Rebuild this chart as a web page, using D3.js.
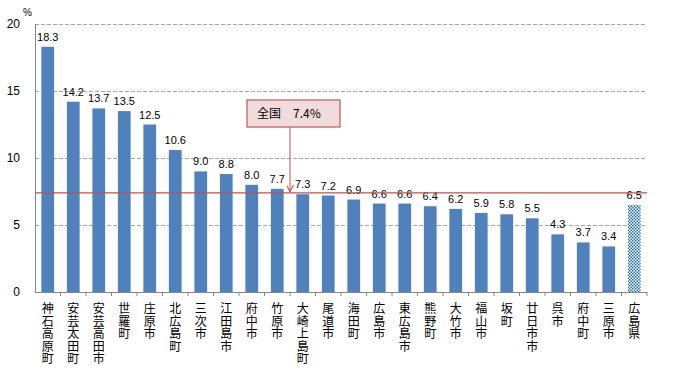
<!DOCTYPE html>
<html>
<head>
<meta charset="utf-8">
<script src="https://cdn.jsdelivr.net/npm/d3@7"></script>
<style>
  body { margin: 0; background: #fff; }
  text { font-family: "Liberation Sans", Arial, sans-serif; }
  .jp { font-family: "Noto Sans CJK JP", sans-serif; }
</style>
</head>
<body>
<div id="chart"></div>
<script>
// values
let categories = ["神石高原町", "安芸太田町", "安芸高田市", "世羅町", "庄原市", "北広島町", "三次市", "江田島市",
    "府中市", "竹原市", "大崎上島町", "尾道市", "海田町", "広島市", "東広島市", "熊野町", "大竹市", "福山市",
    "坂町", "廿日市市", "呉市", "府中町", "三原市", "広島県"];
let values = [18.3, 14.2, 13.7, 13.5, 12.5, 10.6, 9.0, 8.8, 8.0, 7.7, 7.3, 7.2, 6.9, 6.6, 6.6, 6.4, 6.2, 5.9,
    5.8, 5.5, 4.3, 3.7, 3.4, 6.5];
let yTicks = [0, 5, 10, 15, 20];
let national = 7.4;
let nationalLabel = "全国　7.4%";

let W = 678, H = 374;
let margin = {top: 24, right: 31, bottom: 82, left: 35},
    width = W - margin.left - margin.right,
    height = H - margin.top - margin.bottom;

let svg = d3.select("#chart").append("svg")
    .attr("width", W)
    .attr("height", H);

// checker pattern for the prefecture bar
let defs = svg.append("defs");
let pat = defs.append("pattern")
    .attr("id", "checker")
    .attr("patternUnits", "userSpaceOnUse")
    .attr("width", 3).attr("height", 3);
pat.append("rect").attr("width", 3).attr("height", 3).attr("fill", "#fff");
pat.append("rect").attr("width", 1.5).attr("height", 1.5).attr("fill", "#1b6ea6");
pat.append("rect").attr("x", 1.5).attr("y", 1.5).attr("width", 1.5).attr("height", 1.5).attr("fill", "#1b6ea6");

let g = svg.append("g")
    .attr("transform", "translate(" + margin.left + "," + margin.top + ")");

let x = d3.scaleBand().domain(categories).range([0, width]).paddingInner(0.5).paddingOuter(0.25);
let y = d3.scaleLinear().domain([0, 20]).range([height, 0]);

// grid lines
g.append("g").selectAll("line")
    .data(yTicks.filter((d) => d > 0))
    .enter().append("line")
    .attr("x1", 0).attr("x2", width)
    .attr("y1", (d) => y(d) + 0.5).attr("y2", (d) => y(d) + 0.5)
    .attr("stroke", "#a6a6a6")
    .attr("stroke-dasharray", "4,2");

// y tick labels
g.append("g").selectAll("text")
    .data(yTicks)
    .enter().append("text")
    .attr("x", -15).attr("y", (d) => y(d))
    .attr("dy", "0.35em")
    .attr("text-anchor", "end")
    .attr("font-size", 12)
    .attr("fill", "#000")
    .text((d) => d);

svg.append("text")
    .attr("x", 23).attr("y", 16)
    .attr("font-size", 10)
    .text("%");

// bars
g.append("g").selectAll("rect")
    .data(categories)
    .enter().append("rect")
    .attr("x", (d) => x(d))
    .attr("width", x.bandwidth())
    .attr("y", (d, i) => y(values[i]))
    .attr("height", (d, i) => height - y(values[i]))
    .attr("fill", (d, i) => i === categories.length - 1 ? "url(#checker)" : "#4f81bd");

// value labels
g.append("g").selectAll("text")
    .data(categories)
    .enter().append("text")
    .attr("x", (d) => x(d) + x.bandwidth() / 2)
    .attr("y", (d, i) => y(values[i]) - 6)
    .attr("text-anchor", "middle")
    .attr("font-size", 11)
    .text((d, i) => values[i].toFixed(1));

// axes lines
g.append("line")
    .attr("x1", 0.5).attr("x2", 0.5)
    .attr("y1", 0).attr("y2", height)
    .attr("stroke", "#868686");
g.append("line")
    .attr("x1", 0).attr("x2", width)
    .attr("y1", height + 0.5).attr("y2", height + 0.5)
    .attr("stroke", "#868686");

// category boundary ticks
let gap = x.step() - x.bandwidth();
g.append("g").selectAll("line")
    .data(categories)
    .enter().append("line")
    .attr("x1", (d) => x(d) + x.bandwidth() + gap / 2)
    .attr("x2", (d) => x(d) + x.bandwidth() + gap / 2)
    .attr("y1", height).attr("y2", height + 4)
    .attr("stroke", "#868686");

// vertical category labels, one character per line
let labels = g.append("g").selectAll("text")
    .data(categories)
    .enter().append("text")
    .attr("class", "jp")
    .attr("font-size", 12)
    .attr("text-anchor", "middle");
labels.each(function (d) {
    let t = d3.select(this);
    let cx = x(d) + x.bandwidth() / 2;
    Array.from(d).forEach(function (ch, k) {
        t.append("tspan")
            .attr("x", cx)
            .attr("y", height + 21 + k * 12.5)
            .text(ch);
    });
});

// national average line
g.append("line")
    .attr("x1", 0).attr("x2", width)
    .attr("y1", y(national)).attr("y2", y(national))
    .attr("stroke", "#c0504d")
    .attr("stroke-width", 1.3);

// callout box with arrow
let arrowX = x(categories[10]) - gap / 2;
let boxX0 = arrowX - 43, boxW = 93, boxY0 = 100 - margin.top, boxH = 27;
defs.append("marker")
    .attr("id", "arrow")
    .attr("viewBox", "0 0 10 10")
    .attr("refX", 10).attr("refY", 5)
    .attr("markerWidth", 7).attr("markerHeight", 7)
    .attr("orient", "auto")
    .append("path")
    .attr("d", "M0,0 L10,5 L0,10")
    .attr("fill", "none")
    .attr("stroke", "#c0504d")
    .attr("stroke-width", 1.5);
g.append("line")
    .attr("x1", arrowX).attr("x2", arrowX)
    .attr("y1", boxY0 + boxH).attr("y2", y(national) - 1)
    .attr("stroke", "#c0504d")
    .attr("stroke-width", 1)
    .attr("marker-end", "url(#arrow)");
g.append("rect")
    .attr("x", boxX0).attr("y", boxY0)
    .attr("width", boxW).attr("height", boxH)
    .attr("fill", "#f2dcdb")
    .attr("stroke", "#b65a57")
    .attr("stroke-width", 1.2);
g.append("text")
    .attr("class", "jp")
    .attr("x", boxX0 + 10).attr("y", boxY0 + boxH / 2)
    .attr("dy", "0.35em")
    .attr("font-size", 12)
    .text(nationalLabel);
</script>
</body>
</html>
